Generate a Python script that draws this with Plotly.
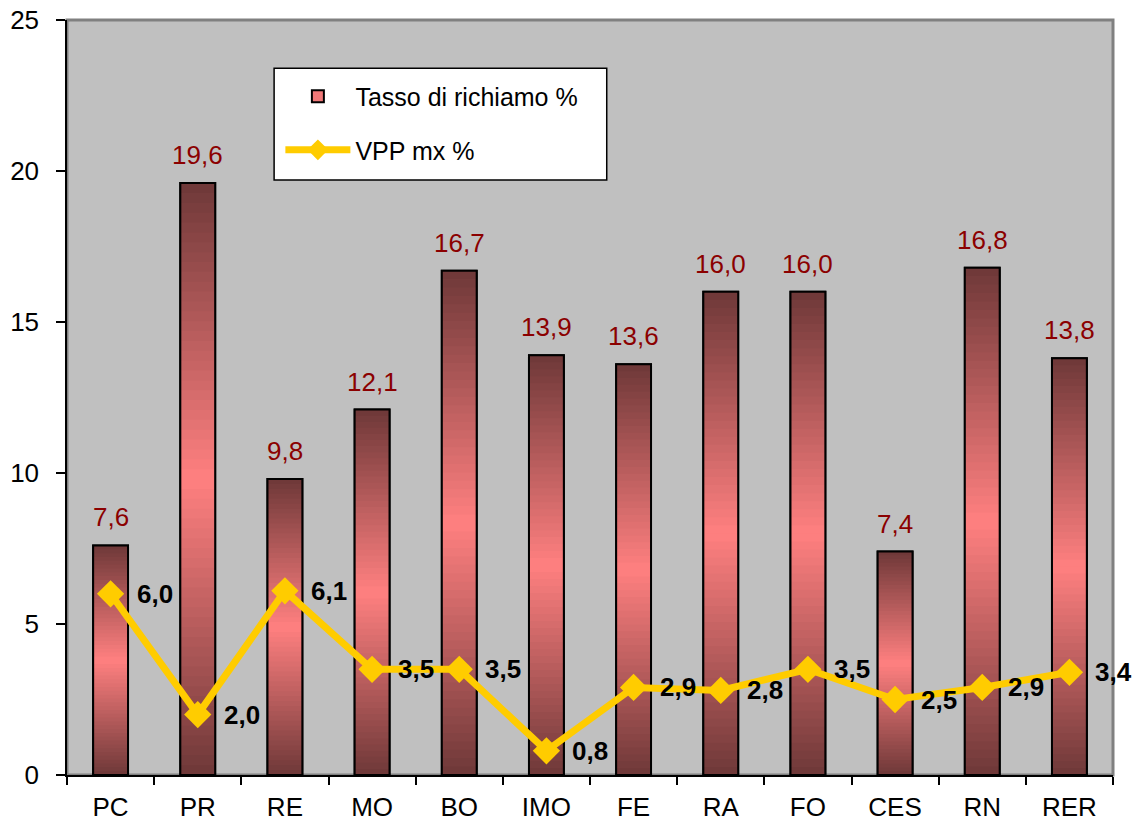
import plotly.graph_objects as go

# Province categories and their values
categories = ["PC", "PR", "RE", "MO", "BO", "IMO", "FE", "RA", "FO", "CES", "RN", "RER"]
tasso_richiamo = [7.6, 19.6, 9.8, 12.1, 16.7, 13.9, 13.6, 16.0, 16.0, 7.4, 16.8, 13.8]
vpp_mx = [6.0, 2.0, 6.1, 3.5, 3.5, 0.8, 2.9, 2.8, 3.5, 2.5, 2.9, 3.4]
y_ticks = [0, 5, 10, 15, 20, 25]

FONT = "Liberation Sans, Arial, sans-serif"
DARK = (110, 56, 56)
PINK = (255, 128, 128)
BAR_W = 0.4
N_SEG = 60
OVERLAP = 0.08  # slices overlap slightly so no seams show


def fmt(v):
    return f"{v:.1f}".replace(".", ",")


def grad(t):
    # dark at both ends, pink in the middle
    s = 1 - abs(2 * t - 1)
    c = [round(d + (p - d) * s) for d, p in zip(DARK, PINK)]
    return f"rgb({c[0]},{c[1]},{c[2]})"


fig = go.Figure()

# legend entry + base fill for the bars
fig.add_trace(go.Bar(
    x=categories, y=tasso_richiamo, width=BAR_W,
    name="Tasso di richiamo %",
    marker=dict(color="rgb(240,120,120)", line=dict(color="black", width=2)),
    legendgroup="a", legendrank=1, hoverinfo="skip",
))

# vertical gradient: each bar split into N_SEG slices of its own height
for k in range(N_SEG):
    t = (k + 0.5) / N_SEG
    bases = [v * k / N_SEG for v in tasso_richiamo]
    heights = [min(v / N_SEG + OVERLAP, v - b) for v, b in zip(tasso_richiamo, bases)]
    fig.add_trace(go.Bar(
        x=categories, y=heights, base=bases, width=BAR_W,
        marker=dict(color=grad(t), line=dict(width=0)),
        showlegend=False, hoverinfo="skip",
    ))

# bar outlines on top of the gradient
fig.add_trace(go.Bar(
    x=categories, y=tasso_richiamo, width=BAR_W,
    marker=dict(color="rgba(0,0,0,0)", line=dict(color="black", width=2)),
    showlegend=False, hoverinfo="skip",
))

fig.add_trace(go.Scatter(
    x=categories, y=vpp_mx, mode="lines+markers",
    name="VPP mx %",
    line=dict(color="#FFCC00", width=7),
    marker=dict(symbol="diamond", size=21, color="#FFCC00"),
    legendgroup="b", legendrank=2,
))

annotations = []
for c, v in zip(categories, tasso_richiamo):
    annotations.append(dict(
        x=c, y=v, text=fmt(v), showarrow=False, yanchor="bottom",
        yshift=11, font=dict(family=FONT, size=26, color="#8B0000"),
    ))
for c, v in zip(categories, vpp_mx):
    annotations.append(dict(
        x=c, y=v, text=f"<b>{fmt(v)}</b>", showarrow=False,
        xanchor="left", yanchor="middle", xshift=24,
        font=dict(family=FONT, size=26, color="black"),
    ))

fig.update_layout(
    width=1143, height=821,
    margin=dict(l=67, r=30, t=20, b=46),
    paper_bgcolor="white", plot_bgcolor="#C0C0C0",
    barmode="overlay",
    font=dict(family=FONT, size=26, color="black"),
    showlegend=True,
    legend=dict(
        x=0.204, y=0.929, xanchor="left", yanchor="top",
        bgcolor="rgba(0,0,0,0)", borderwidth=0,
        font=dict(family=FONT, size=25, color="black"),
        traceorder="grouped", tracegroupgap=18, itemwidth=65,
    ),
    annotations=annotations,
    shapes=[
        # plot area frame (top/right edges)
        dict(type="rect", xref="paper", yref="paper", x0=0, x1=1, y0=0, y1=1,
             line=dict(color="#808080", width=3), layer="below"),
        # legend box
        dict(type="rect", xref="paper", yref="paper",
             x0=0.198, x1=0.516, y0=0.788, y1=0.936,
             fillcolor="white", line=dict(color="black", width=1.5), layer="above"),
    ],
    xaxis=dict(
        type="category", tickson="boundaries", ticks="outside", ticklen=8,
        tickcolor="black", tickwidth=1.5,
        showline=True, linecolor="black", linewidth=1.5,
        showgrid=False, zeroline=False, automargin=False,
        tickfont=dict(family=FONT, size=26, color="black"),
        ticklabelstandoff=8,
        range=[-0.5, len(categories) - 0.5],
    ),
    yaxis=dict(
        range=[0, 25], tickvals=y_ticks, ticks="outside", ticklen=9,
        tickcolor="black", tickwidth=1.5,
        showline=True, linecolor="black", linewidth=1.5,
        showgrid=False, zeroline=False, automargin=False,
        tickfont=dict(family=FONT, size=26, color="black"),
        ticklabelstandoff=12,
    ),
)

fig.write_html("out.html")
